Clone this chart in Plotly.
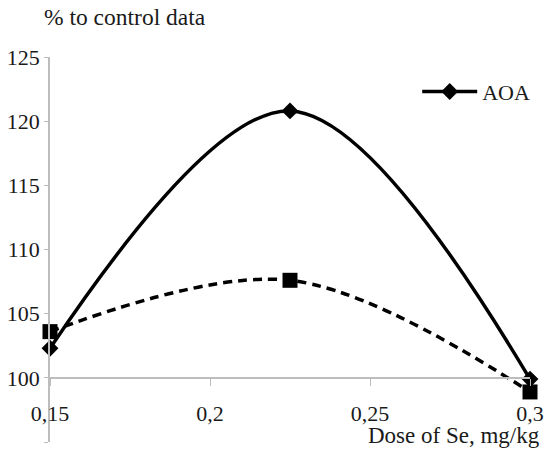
import plotly.graph_objects as go

dose = [0.15, 0.225, 0.3]
aoa = [102.3, 120.8, 99.9]
second = [103.6, 107.6, 98.9]
x_ticks = [0.15, 0.2, 0.25, 0.3]
x_tick_labels = ["0,15", "0,2", "0,25", "0,3"]
y_ticks = [95, 100, 105, 110, 115, 120, 125]

FONT = "Liberation Serif"
AXIS = "#bdbdbd"
TXT = "#1a1a1a"

fig = go.Figure()
fig.add_trace(go.Scatter(
    x=dose, y=second, mode="lines+markers", showlegend=False,
    line=dict(color="black", width=3.5, dash="9px,6px", shape="spline", smoothing=1),
    marker=dict(symbol="square", size=15, color="black"), cliponaxis=False,
))
fig.add_trace(go.Scatter(
    x=dose, y=aoa, mode="lines+markers", name="AOA",
    line=dict(color="black", width=3.5, shape="spline", smoothing=1),
    marker=dict(symbol="diamond", size=13, color="black"), cliponaxis=False,
))

fig.update_layout(
    width=550, height=454,
    margin=dict(l=50, r=20, t=57, b=12),
    paper_bgcolor="white", plot_bgcolor="white",
    font=dict(family=FONT, size=22, color=TXT),
    legend=dict(x=0.765, y=0.91, xanchor="left", yanchor="middle",
                bgcolor="rgba(0,0,0,0)", itemwidth=55,
                font=dict(family=FONT, size=22, color=TXT)),
    xaxis=dict(range=[0.15, 0.3], tickvals=x_ticks, ticktext=x_tick_labels,
               showgrid=False, zeroline=False, showline=True, linecolor=AXIS,
               linewidth=1.5, ticks="outside", ticklen=7, tickcolor=AXIS,
               anchor="free", position=5/30, ticklabelstandoff=9, automargin=False,
               tickfont=dict(family=FONT, size=22, color=TXT)),
    yaxis=dict(range=[95, 125], tickvals=y_ticks, showgrid=False, zeroline=False,
               showline=True, linecolor=AXIS, linewidth=1.5, ticks="outside",
               ticklen=4, tickcolor=AXIS, ticklabelstandoff=0, automargin=False,
               tickfont=dict(family=FONT, size=22, color=TXT)),
    annotations=[
        dict(text="% to control data", xref="paper", yref="paper",
             x=-0.017, y=1.104, xanchor="left", yanchor="middle",
             showarrow=False, font=dict(family=FONT, size=23.5, color=TXT)),
        dict(text="Dose of Se, mg/kg", xref="paper", yref="paper",
             x=1.025, y=0.016, xanchor="right", yanchor="middle",
             showarrow=False, font=dict(family=FONT, size=23, color=TXT)),
    ],
)

fig.write_html("out.html", config={"displayModeBar": False},
               post_script="document.body.style.margin='0';document.body.style.padding='0';")
